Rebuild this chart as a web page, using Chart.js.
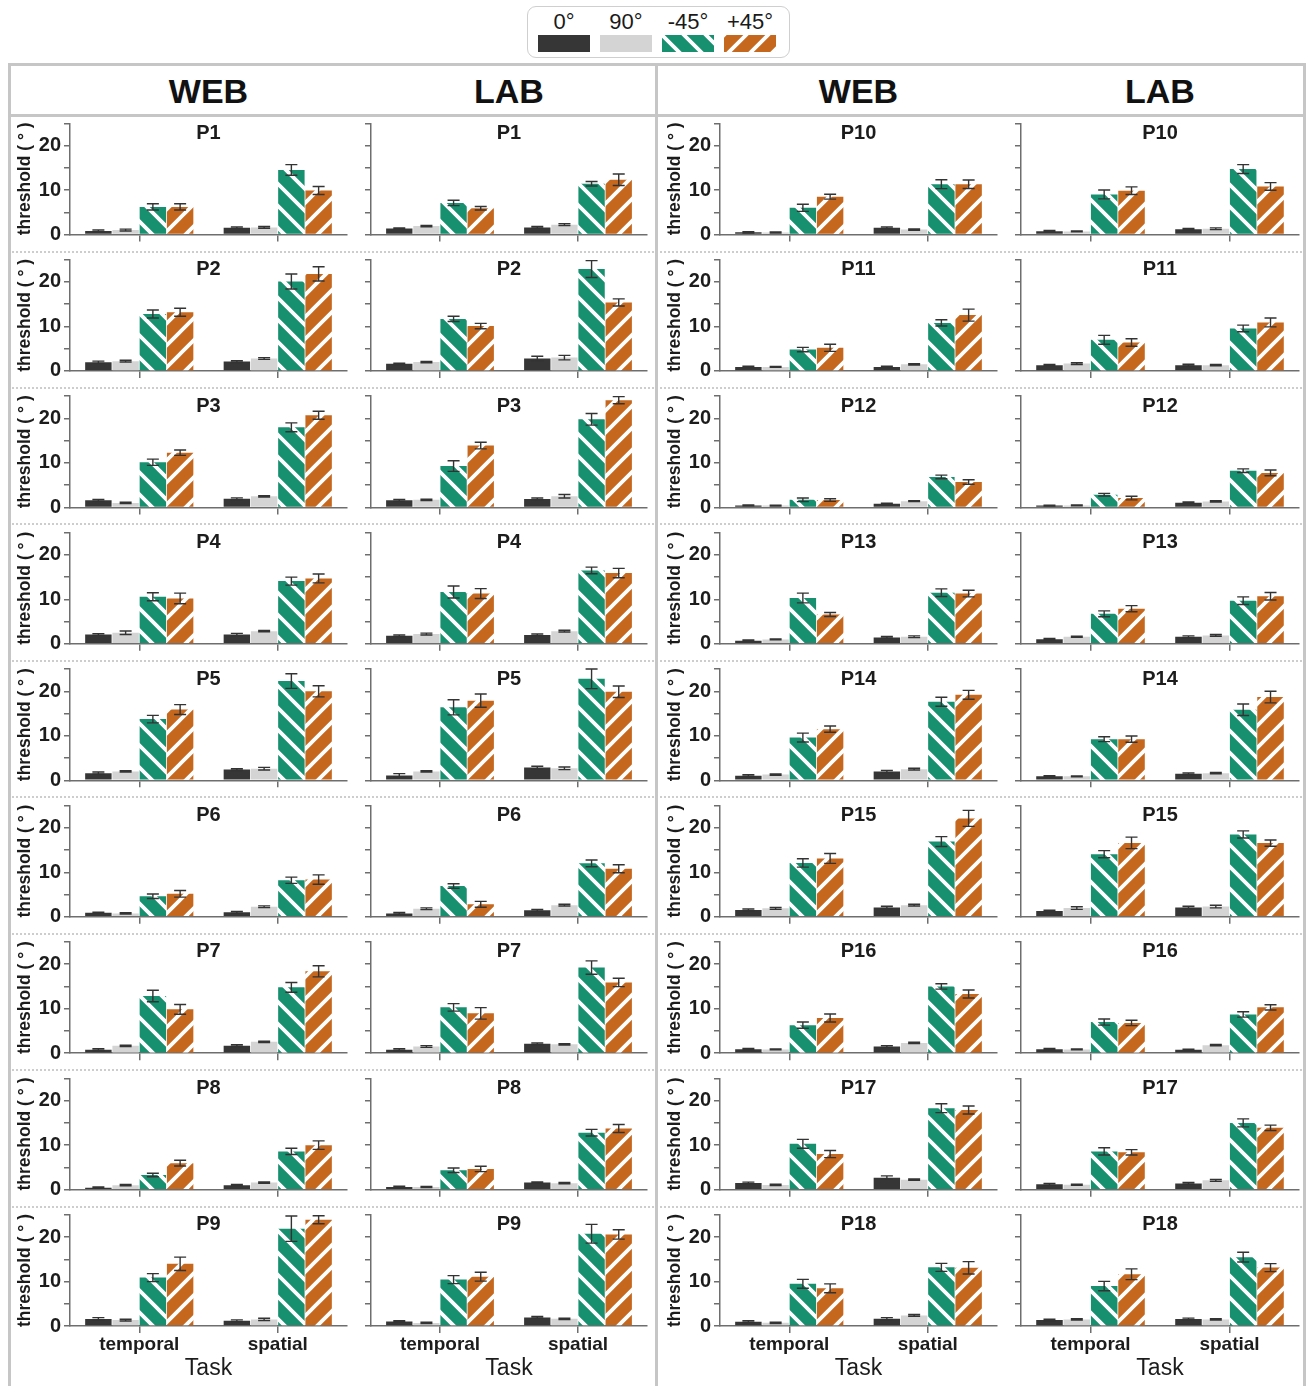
<!DOCTYPE html>
<html>
<head>
<meta charset="utf-8">
<title>Orientation thresholds per participant</title>
<script src="https://cdn.jsdelivr.net/npm/chart.js@4/dist/chart.umd.min.js"></script>
<style>
  html, body { margin: 0; padding: 0; background: #fff; }
  body { position: relative; width: 1308px; height: 1386px; overflow: hidden;
         font-family: "Liberation Sans", Arial, Helvetica, sans-serif; color: #111; }
  .line { position: absolute; background: #c6c6c6; }
  .dots { position: absolute; height: 0; border-top: 2px dotted #cdcdcd; }
  .head { position: absolute; width: 200px; text-align: center; font-weight: bold;
          font-size: 34px; line-height: 40px; }
  #legend { position: absolute; left: 527px; top: 6px; width: 261px; height: 50px;
            border: 1.5px solid #cfcfcf; border-radius: 9px; }
  .lgText { position: absolute; width: 60px; text-align: center; font-size: 22px; line-height: 24px; color: #1a1a1a; }
  .lgSw { position: absolute; }
  canvas { position: absolute; }
</style>
</head>
<body>
<div id="legend"></div>
<script>
// ---- data -------------------------------------------------------------
const participants = ['P1','P2','P3','P4','P5','P6','P7','P8','P9',
                      'P10','P11','P12','P13','P14','P15','P16','P17','P18'];
const sources = ['WEB', 'LAB'];
const tasks = ['temporal', 'spatial'];
const orientations = ['0°', '90°', '-45°', '+45°'];
const yTickLabels = [0, 10, 20];
const yMax = 25;

// Each row: temporal 0°, 90°, -45°, +45°, then spatial 0°, 90°, -45°, +45°
const webMean = [
  [0.8, 1.0, 6.2, 6.2,    1.5, 1.6, 14.5, 9.9],
  [1.95, 2.2, 12.8, 13.2, 2.1, 2.8, 20.1, 21.8],
  [1.6, 1.0, 10.15, 12.3, 1.95, 2.5, 18.0, 20.7],
  [2.1, 2.5, 10.6, 10.2,  2.1, 2.85, 14.1, 14.7],
  [1.6, 2.0, 13.75, 15.9, 2.4, 2.6, 22.3, 20.0],
  [0.9, 0.75, 4.6, 5.15,  1.0, 2.25, 8.2, 8.35],
  [0.8, 1.65, 12.85, 9.85, 1.7, 2.55, 14.8, 18.4],
  [0.45, 1.0, 3.3, 5.95,  1.0, 1.6, 8.6, 10.0],
  [1.6, 1.35, 10.9, 14.0, 1.2, 1.5, 21.9, 23.9],
  [0.5, 0.45, 6.0, 8.5,   1.5, 1.1, 11.3, 11.3],
  [0.9, 0.9, 4.8, 5.2,    0.9, 1.5, 10.8, 12.55],
  [0.45, 0.4, 1.7, 1.65,  0.8, 1.4, 6.85, 5.7],
  [0.7, 1.0, 10.3, 6.6,   1.45, 1.6, 11.5, 11.3],
  [1.05, 1.3, 9.6, 11.5,  1.95, 2.5, 17.65, 19.2],
  [1.5, 1.9, 12.1, 13.1,  2.1, 2.6, 16.9, 22.1],
  [0.9, 0.85, 6.3, 7.9,   1.5, 2.3, 15.0, 13.3],
  [1.5, 1.05, 10.3, 8.0,  2.7, 2.25, 18.3, 17.9],
  [1.0, 0.75, 9.5, 8.5,   1.65, 2.4, 13.2, 13.1]
];
const webErr = [
  [0.2, 0.2, 0.7, 0.7,    0.2, 0.2, 1.2, 0.9],
  [0.25, 0.2, 0.9, 0.9,   0.2, 0.2, 1.7, 1.6],
  [0.2, 0.15, 0.7, 0.6,   0.2, 0.15, 1.0, 0.9],
  [0.2, 0.4, 0.9, 1.2,    0.25, 0.15, 0.9, 1.0],
  [0.25, 0.15, 0.85, 1.1, 0.2, 0.3, 1.65, 1.25],
  [0.15, 0.15, 0.5, 0.75, 0.2, 0.2, 0.7, 1.05],
  [0.2, 0.15, 1.3, 1.1,   0.2, 0.15, 1.1, 1.25],
  [0.15, 0.15, 0.4, 0.65, 0.15, 0.15, 0.7, 0.95],
  [0.3, 0.2, 0.9, 1.5,    0.2, 0.25, 2.85, 0.9],
  [0.15, 0.1, 0.8, 0.55,  0.2, 0.15, 1.0, 0.95],
  [0.15, 0.1, 0.5, 0.8,   0.15, 0.15, 0.7, 1.35],
  [0.1, 0.1, 0.4, 0.3,    0.15, 0.1, 0.4, 0.5],
  [0.15, 0.1, 1.1, 0.45,  0.2, 0.2, 0.85, 0.75],
  [0.2, 0.15, 1.0, 0.7,   0.25, 0.2, 1.0, 1.0],
  [0.25, 0.2, 0.95, 1.1,  0.25, 0.2, 1.1, 1.8],
  [0.15, 0.1, 0.7, 0.9,   0.2, 0.15, 0.6, 0.9],
  [0.2, 0.15, 1.0, 0.8,   0.4, 0.15, 1.0, 0.9],
  [0.2, 0.15, 1.0, 1.0,   0.25, 0.2, 0.9, 1.4]
];
const labMean = [
  [1.35, 1.9, 7.1, 5.9,   1.6, 2.2, 11.4, 12.3],
  [1.6, 2.0, 11.7, 10.1,  2.8, 3.0, 22.9, 15.4],
  [1.6, 1.7, 9.3, 13.9,   1.9, 2.5, 19.8, 24.1],
  [1.8, 2.2, 11.65, 11.3, 2.0, 2.85, 16.5, 15.9],
  [1.1, 2.0, 16.4, 17.9,  2.85, 2.7, 22.8, 19.9],
  [0.75, 1.8, 6.9, 2.8,   1.45, 2.6, 12.0, 10.8],
  [0.8, 1.5, 10.3, 8.95,  2.1, 2.0, 19.25, 15.9],
  [0.6, 0.6, 4.35, 4.65,  1.6, 1.45, 12.8, 13.75],
  [1.05, 0.7, 10.45, 11.1, 1.95, 1.65, 20.75, 20.6],
  [0.75, 0.7, 9.0, 9.85,  1.2, 1.3, 14.7, 10.8],
  [1.3, 1.65, 7.0, 6.4,   1.3, 1.3, 9.55, 10.9],
  [0.4, 0.45, 2.85, 2.1,  1.05, 1.35, 8.25, 7.75],
  [1.05, 1.6, 6.75, 7.9,  1.6, 1.9, 9.7, 10.7],
  [0.9, 0.9, 9.25, 9.25,  1.45, 1.6, 15.85, 18.7],
  [1.3, 1.95, 14.05, 16.6, 2.1, 2.3, 18.5, 16.55],
  [0.9, 0.85, 7.0, 6.8,   0.8, 1.8, 8.7, 10.3],
  [1.2, 1.1, 8.6, 8.4,    1.4, 2.1, 15.0, 13.9],
  [1.35, 1.5, 9.0, 11.65, 1.6, 1.5, 15.5, 13.15]
];
const labErr = [
  [0.15, 0.15, 0.6, 0.4,  0.2, 0.2, 0.5, 1.3],
  [0.15, 0.15, 0.6, 0.6,  0.5, 0.5, 1.9, 0.8],
  [0.2, 0.15, 1.2, 0.75,  0.2, 0.4, 1.3, 0.8],
  [0.2, 0.2, 1.35, 1.1,   0.2, 0.2, 0.75, 1.05],
  [0.4, 0.15, 1.7, 1.5,   0.3, 0.3, 2.2, 1.3],
  [0.2, 0.2, 0.5, 0.65,   0.2, 0.2, 0.75, 0.9],
  [0.2, 0.2, 0.85, 1.3,   0.2, 0.15, 1.5, 0.95],
  [0.15, 0.1, 0.5, 0.6,   0.15, 0.15, 0.75, 0.9],
  [0.15, 0.15, 0.9, 1.0,  0.2, 0.15, 2.1, 1.05],
  [0.15, 0.1, 1.0, 0.85,  0.15, 0.2, 1.0, 0.85],
  [0.15, 0.2, 1.0, 0.85,  0.2, 0.15, 0.75, 1.0],
  [0.1, 0.1, 0.3, 0.4,    0.15, 0.15, 0.4, 0.65],
  [0.15, 0.1, 0.65, 0.7,  0.2, 0.2, 0.85, 0.85],
  [0.15, 0.1, 0.55, 0.7,  0.2, 0.15, 1.3, 1.3],
  [0.15, 0.3, 0.8, 1.3,   0.25, 0.3, 0.8, 0.7],
  [0.15, 0.1, 0.7, 0.6,   0.1, 0.15, 0.6, 0.6],
  [0.2, 0.1, 0.8, 0.6,    0.2, 0.2, 0.9, 0.6],
  [0.2, 0.15, 1.05, 1.2,  0.2, 0.15, 1.1, 0.9]
];

// ---- styling ----------------------------------------------------------
const FONT = '"Liberation Sans", Arial, Helvetica, sans-serif';
const orientationColors = ['#363636', '#d4d4d4', '#17906f', '#c6671e'];
const orientationHatch = [null, null, 'back', 'forward'];
const AXIS = '#6e6e6e';
const TEXT = '#1c1c1c';

// page layout
const colAxisX = [70, 371, 720, 1021];
const colPlotW = [277, 276, 277, 278];
const firstBaseline = 234.5;
const rowPitch = 136.45;
const plotH = 111.25;
const yAxisW = 66;

function hatchPattern(color, dir) {
  const T = 22;
  const c = document.createElement('canvas');
  c.width = T; c.height = T;
  const g = c.getContext('2d');
  g.fillStyle = color;
  g.fillRect(0, 0, T, T);
  g.strokeStyle = '#ffffff';
  g.lineWidth = 3.8;
  g.beginPath();
  for (let k = -1; k <= 1; k++) {
    if (dir === 'back') { g.moveTo(k * T - 4, -4); g.lineTo(k * T + T + 4, T + 4); }
    else { g.moveTo(k * T - 4, T + 4); g.lineTo(k * T + T + 4, -4); }
  }
  g.stroke();
  return g.createPattern(c, 'repeat');
}
const fills = orientationColors.map((c, k) => orientationHatch[k] ? hatchPattern(c, orientationHatch[k]) : c);

// ---- frame, headers, separators ---------------------------------------
function addDiv(cls, css, text) {
  const d = document.createElement('div');
  d.className = cls;
  d.style.cssText = css;
  if (text !== undefined) d.textContent = text;
  document.body.appendChild(d);
  return d;
}
addDiv('line', 'left:8px;top:63px;width:1298px;height:3px;');
addDiv('line', 'left:8px;top:114px;width:1298px;height:3px;');
addDiv('line', 'left:8px;top:63px;width:3px;height:1330px;');
addDiv('line', 'left:655px;top:63px;width:3px;height:1330px;');
addDiv('line', 'left:1303px;top:63px;width:3px;height:1330px;');
for (let k = 0; k < 8; k++) {
  const y = Math.round(firstBaseline + 16 + k * rowPitch);
  addDiv('dots', `left:12px;top:${y}px;width:642px;`);
  addDiv('dots', `left:660px;top:${y}px;width:642px;`);
}
for (let col = 0; col < 4; col++) {
  const cx = colAxisX[col] + colPlotW[col] / 2;
  addDiv('head', `left:${cx - 100}px;top:71px;`, sources[col % 2]);
}

// ---- legend -----------------------------------------------------------
const legend = document.getElementById('legend');
orientations.forEach((o, k) => {
  const cx = 36 + 62 * k;
  const t = document.createElement('div');
  t.className = 'lgText';
  t.style.left = (cx - 30) + 'px';
  t.style.top = '3px';
  t.textContent = o;
  legend.appendChild(t);
  const sw = document.createElement('canvas');
  sw.className = 'lgSw';
  sw.width = 52; sw.height = 17;
  sw.style.left = (cx - 26) + 'px';
  sw.style.top = '28px';
  const g = sw.getContext('2d');
  g.fillStyle = fills[k];
  g.fillRect(0, 0, 52, 17);
  legend.appendChild(sw);
});

// ---- plugins ----------------------------------------------------------
const errorBars = {
  id: 'errorBars',
  afterDatasetsDraw(chart) {
    const { ctx } = chart;
    const y = chart.scales.y;
    ctx.save();
    ctx.strokeStyle = '#333333';
    ctx.lineWidth = 1.4;
    chart.data.datasets.forEach((ds, i) => {
      chart.getDatasetMeta(i).data.forEach((bar, j) => {
        const v = ds.data[j], e = ds.errors[j];
        const yHi = y.getPixelForValue(v + e);
        const yLo = y.getPixelForValue(Math.max(0, v - e));
        const x = bar.x, h = 6;
        ctx.beginPath();
        ctx.moveTo(x, yLo); ctx.lineTo(x, yHi);
        ctx.moveTo(x - h, yLo); ctx.lineTo(x + h, yLo);
        ctx.moveTo(x - h, yHi); ctx.lineTo(x + h, yHi);
        ctx.stroke();
      });
    });
    ctx.restore();
  }
};

function panelTitle(text) {
  return {
    id: 'panelTitle',
    afterDraw(chart) {
      const { ctx, chartArea } = chart;
      ctx.save();
      ctx.font = 'bold 20px ' + FONT;
      ctx.fillStyle = TEXT;
      ctx.textAlign = 'center';
      ctx.textBaseline = 'middle';
      ctx.fillText(text, (chartArea.left + chartArea.right) / 2, chartArea.top + 10);
      ctx.restore();
    }
  };
}

// ---- panels -----------------------------------------------------------
function drawPanel(p, s) {
  const half = p < 9 ? 0 : 1;
  const row = p % 9;
  const col = half * 2 + s;
  const means = (s === 0 ? webMean : labMean)[p];
  const errs = (s === 0 ? webErr : labErr)[p];
  const bottomRow = row === 8;
  const leftCol = s === 0;
  const baseline = firstBaseline + row * rowPitch;
  const xH = bottomRow ? 56 : 13;
  const top = Math.floor(baseline - plotH - 15);
  const padTop = baseline - plotH - top;
  const height = Math.ceil(baseline - top + xH + 2);
  const padBottom = height - (baseline - top) - xH;
  const left = colAxisX[col] - yAxisW;
  const width = yAxisW + colPlotW[col] + 6;

  const cv = document.createElement('canvas');
  cv.width = width; cv.height = height;
  cv.style.left = left + 'px';
  cv.style.top = top + 'px';
  cv.style.width = width + 'px';
  cv.style.height = height + 'px';
  document.body.appendChild(cv);

  const datasets = orientations.map((o, k) => ({
    label: o,
    data: tasks.map((t, ti) => means[ti * 4 + k]),
    errors: tasks.map((t, ti) => errs[ti * 4 + k]),
    backgroundColor: fills[k],
    borderWidth: 0,
    categoryPercentage: 0.787,
    barPercentage: 0.97
  }));

  new Chart(cv, {
    type: 'bar',
    data: { labels: tasks, datasets },
    options: {
      responsive: false,
      animation: false,
      devicePixelRatio: 1,
      layout: { padding: { top: padTop, bottom: padBottom, left: 0, right: 6 } },
      plugins: { legend: { display: false }, tooltip: { enabled: false } },
      scales: {
        x: {
          grid: { display: true, offset: false, drawOnChartArea: false, drawTicks: true,
                  tickLength: 7, color: AXIS, lineWidth: 1.5 },
          border: { display: true, color: AXIS, width: 1.5 },
          ticks: { padding: 0, color: TEXT, autoSkip: false, maxRotation: 0,
                   font: { family: FONT, size: 19, weight: 'bold' },
                   callback: (v, i) => bottomRow ? tasks[i] : '' },
          title: { display: bottomRow, text: 'Task', color: TEXT,
                   font: { family: FONT, size: 23, weight: 'normal' },
                   padding: { top: 0, bottom: 0 } },
          afterFit: (sc) => { sc.height = xH; }
        },
        y: {
          min: 0, max: yMax,
          grid: { display: true, drawOnChartArea: false, drawTicks: true,
                  tickLength: 6, color: AXIS, lineWidth: 1.5 },
          border: { display: true, color: AXIS, width: 1.5 },
          ticks: { stepSize: 5, padding: 3, color: TEXT, autoSkip: false,
                   font: { family: FONT, size: 20, weight: 'bold' },
                   callback: (v) => (leftCol && yTickLabels.includes(v)) ? String(v) : '' },
          title: { display: leftCol, text: 'threshold ( ° )', color: TEXT,
                   font: { family: FONT, size: 17.5, weight: 'bold' },
                   padding: { top: 10.5, bottom: 0 } },
          afterFit: (sc) => { sc.width = yAxisW; }
        }
      }
    },
    plugins: [errorBars, panelTitle(participants[p])]
  });
}

participants.forEach((name, p) => {
  sources.forEach((src, s) => drawPanel(p, s));
});
</script>
</body>
</html>
